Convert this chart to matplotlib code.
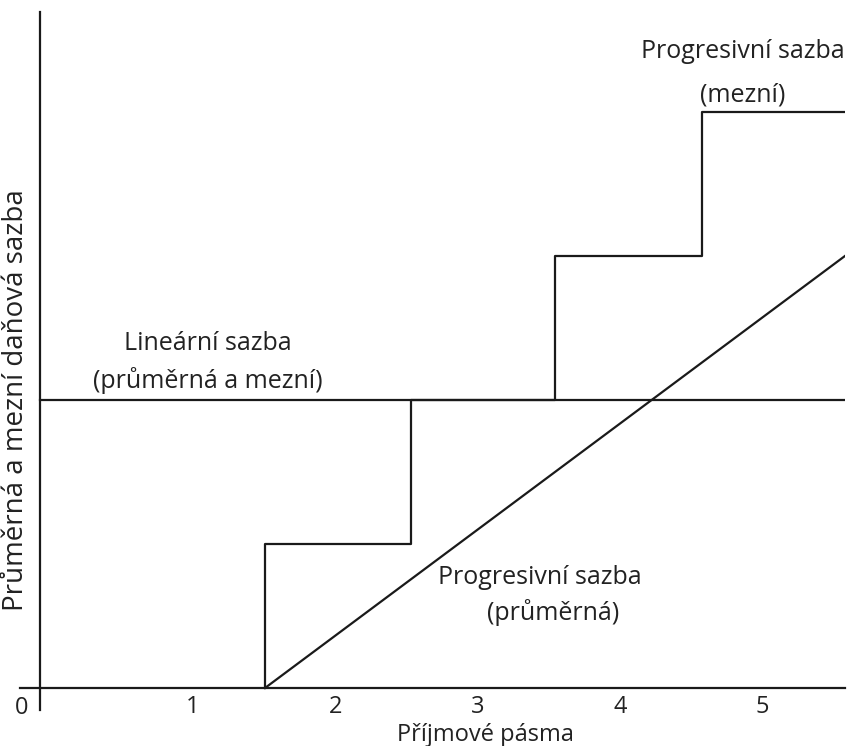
import matplotlib.pyplot as plt

# income bands (x in tick-label units), rate levels (y)
band_ticks = [1, 2, 3, 4, 5]
band_labels = ["1", "2", "3", "4", "5"]
band_edges = [1.506, 2.531, 3.542, 4.574]
x_end = 5.579
axis_x = -0.074

# marginal progressive rate: step level reached at each band edge
marginal_levels = [1, 2, 3, 4]
linear_level = 2
# average progressive rate: straight line from first band edge
avg_x = [1.506, 5.579]
avg_y = [0, 3.0]

W, H = 856, 746
plt.rcParams["font.family"] = ["Open Sans", "DejaVu Sans"]

fig = plt.figure(figsize=(W / 100, H / 100), dpi=100)
ax = fig.add_axes([20 / W, 36 / H, 825 / W, 698 / H])
ax.set_xlim(-0.215, x_end)
ax.set_ylim(-0.153, 4.694)

lw = 1.6
col = "#1a1a1a"

# linear rate
ax.plot([axis_x, x_end], [linear_level, linear_level], color=col, lw=lw)

# marginal progressive rate (step)
sx = [band_edges[0]]
sy = [0]
for i, lev in enumerate(marginal_levels):
    sx += [band_edges[i], band_edges[i + 1] if i + 1 < len(band_edges) else x_end]
    sy += [lev, lev]
ax.plot(sx, sy, color=col, lw=lw)

# average progressive rate
ax.plot(avg_x, avg_y, color=col, lw=lw)

for s in ["top", "right"]:
    ax.spines[s].set_visible(False)
ax.spines["left"].set_position(("data", axis_x))
ax.spines["bottom"].set_position(("data", 0))
for s in ["left", "bottom"]:
    ax.spines[s].set_linewidth(lw)
    ax.spines[s].set_color(col)

ax.set_yticks([])
ax.set_xticks(band_ticks)
ax.set_xticklabels(band_labels, fontsize=17, color="#222222")
ax.tick_params(axis="x", length=0, pad=5)


def fx(px):
    return px / W


def fy(py):
    return 1 - py / H


tk = dict(color="#222222", ha="center", va="center")
fig.text(fx(22), fy(708), "0", fontsize=17, **tk)
fig.text(fx(485), fy(741), "Příjmové pásma", fontsize=17, color="#222222",
         ha="center", va="baseline")
fig.text(fx(16), fy(400), "Průměrná a mezní daňová sazba", rotation=90,
         fontsize=20, **tk)
fig.text(fx(208), fy(344), "Lineární sazba", fontsize=18, **tk)
fig.text(fx(208), fy(381), "(průměrná a mezní)", fontsize=18, **tk)
fig.text(fx(743), fy(52), "Progresivní sazba", fontsize=18, **tk)
fig.text(fx(743), fy(95), "(mezní)", fontsize=18, **tk)
fig.text(fx(540), fy(578), "Progresivní sazba", fontsize=18, **tk)
fig.text(fx(553), fy(613), "(průměrná)", fontsize=18, **tk)

fig.savefig("out.png", dpi=100)
